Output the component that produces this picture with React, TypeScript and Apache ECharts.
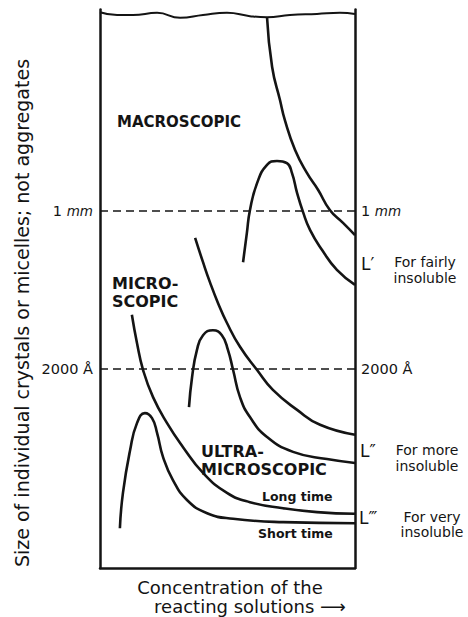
import React, { useEffect, useRef } from "react";
import * as echarts from "echarts";

// Abstract units: concentration 0..100 (x), crystal size 0..101 (y)
const frameTop: [number, number][] = [
  [0, 100.5], [6.7, 100.0], [12.9, 100.0], [22.4, 100.4], [31.4, 99.5], [40.4, 100.0],
  [49.8, 100.4], [58.8, 99.8], [65.5, 99.6], [74.5, 100.0], [85.1, 100.2], [94.1, 100.4], [100, 100.2],
];

// L' (fairly insoluble) upper boundary
const curveL1Upper: [number, number][] = [
  [65.5, 99.6], [67.5, 90.6], [70.6, 84.6], [72.5, 81.0], [76.5, 75.6], [81.2, 71.4],
  [85.5, 68.4], [90.2, 64.7], [95.3, 62.4], [100, 60.2],
];
// L' hump
const curveL1Hump: [number, number][] = [
  [56.1, 55.3], [57.6, 60.6], [58.8, 64.7], [61.6, 69.6], [65.5, 72.9], [69.4, 73.6],
  [73.3, 73.2], [75.3, 71.4], [77.3, 67.8], [79.6, 64.4], [82.4, 61.1], [87.1, 57.5],
  [92.9, 53.9], [100, 51.2],
];
// L'' (more insoluble) upper boundary
const curveL2Upper: [number, number][] = [
  [37.3, 59.7], [40.4, 55.3], [43.1, 51.7], [46.3, 47.9], [49.8, 44.3], [54.9, 40.0],
  [61.6, 35.8], [67.8, 32.2], [77.3, 28.6], [86.3, 25.9], [100, 24.1],
];
// L'' hump
const curveL2Hump: [number, number][] = [
  [34.9, 29.1], [36.1, 34.5], [38.0, 39.4], [40.4, 42.1], [44.3, 43.0], [47.8, 42.1],
  [50.2, 39.4], [52.2, 35.8], [54.9, 30.9], [58.8, 27.3], [65.5, 23.7], [75.7, 21.0],
  [89.0, 19.7], [100, 19.0],
];
// L''' long time
const curveLongTime: [number, number][] = [
  [12.5, 45.8], [14.5, 40.7], [16.9, 35.8], [20.8, 30.9], [26.3, 26.2], [32.5, 21.9],
  [40.4, 17.2], [49.8, 13.6], [58.8, 11.9], [71.8, 10.8], [85.1, 10.1], [100, 9.8],
];
// L''' short time
const curveShortTime: [number, number][] = [
  [7.8, 7.2], [9.0, 13.6], [11.8, 21.3], [14.5, 26.2], [17.6, 28.0], [20.4, 27.1],
  [22.4, 24.4], [24.7, 20.1], [28.6, 15.9], [34.1, 12.3], [42.0, 9.9], [52.2, 8.9],
  [71.8, 8.3], [100, 8.1],
];

const sizeLevels = [64.6, 36.0];
const sizeLabels = ["1 {i|mm}", "2000 Å"];

const FONT = "DejaVu Sans";
const INK = "#141414";

export default function App() {
  const ref = useRef<HTMLDivElement>(null);
  useEffect(() => {
    if (!ref.current) return;
    const chart = echarts.init(ref.current, undefined, { renderer: "svg" });
    const curve = (name: string, data: [number, number][], extra: any = {}) => ({
      name,
      type: "line",
      data,
      showSymbol: false,
      symbol: "none",
      smooth: 0.5,
      clip: false,
      lineStyle: { color: INK, width: 2.6 },
      z: 3,
      ...extra,
    });
    const labelFmt = (v: number) => {
      const i = sizeLevels.findIndex((s) => Math.abs(s - v) < 0.01);
      return i >= 0 ? sizeLabels[i] : "";
    };
    const axisLabelCommon = {
      show: true,
      customValues: sizeLevels,
      formatter: labelFmt,
      color: INK,
      fontFamily: FONT,
      fontSize: 14.5,
      rich: { i: { fontStyle: "italic", fontFamily: FONT, fontSize: 13.5, color: INK } },
    };
    chart.setOption({
      animation: false,
      backgroundColor: "#ffffff",
      grid: { left: 100, right: 113, top: 9.5, bottom: 49 },
      xAxis: {
        type: "value",
        min: 0,
        max: 100,
        axisLine: { show: true, lineStyle: { color: INK, width: 2.5 } },
        axisTick: { show: false },
        axisLabel: { show: false },
        splitLine: { show: false },
      },
      yAxis: [
        {
          type: "value",
          min: 0,
          max: 101,
          position: "left",
          axisLine: { show: true, onZero: false, lineStyle: { color: INK, width: 2.5 } },
          axisTick: { show: false },
          axisLabel: { ...axisLabelCommon, margin: 7 },
          splitLine: { show: false },
        },
        {
          type: "value",
          min: 0,
          max: 101,
          position: "right",
          axisLine: { show: true, onZero: false, lineStyle: { color: INK, width: 2.5 } },
          axisTick: { show: false },
          axisLabel: { ...axisLabelCommon, margin: 6 },
          splitLine: { show: false },
        },
      ],
      series: [
        curve("frameTop", frameTop, { smooth: 0.5, lineStyle: { color: INK, width: 2 } }),
        curve("L′ upper", curveL1Upper, {
          markLine: {
            silent: true,
            symbol: "none",
            label: { show: false },
            lineStyle: { color: INK, width: 1.5, type: [8, 5] },
            data: sizeLevels.map((v) => ({ yAxis: v })),
          },
        }),
        curve("L′ hump", curveL1Hump),
        curve("L″ upper", curveL2Upper),
        curve("L″ hump", curveL2Hump),
        curve("Long time", curveLongTime),
        curve("Short time", curveShortTime),
      ],
      graphic: [
        {
          type: "text",
          x: 22,
          y: 313,
          rotation: Math.PI / 2,
          style: {
            text: "Size of individual crystals or micelles; not aggregates",
            font: `19px "${FONT}"`,
            fill: INK,
            align: "center",
            verticalAlign: "middle",
          },
        },
        {
          type: "text",
          left: 117,
          top: 114,
          style: { text: "MACROSCOPIC", font: `bold 15px "${FONT}"`, fill: INK },
        },
        {
          type: "text",
          left: 112,
          top: 274,
          style: { text: "MICRO-\nSCOPIC", font: `bold 16px "${FONT}"`, fill: INK, lineHeight: 18 },
        },
        {
          type: "text",
          left: 201,
          top: 442,
          style: { text: "ULTRA-\nMICROSCOPIC", font: `bold 16px "${FONT}"`, fill: INK, lineHeight: 18 },
        },
        {
          type: "text",
          left: 262,
          top: 490,
          style: { text: "Long time", font: `bold 12.5px "${FONT}"`, fill: INK },
        },
        {
          type: "text",
          left: 258,
          top: 527,
          style: { text: "Short time", font: `bold 12.5px "${FONT}"`, fill: INK },
        },
        {
          type: "text",
          left: 361,
          top: 255,
          style: { text: "L′", font: `17px "${FONT}"`, fill: INK },
        },
        {
          type: "text",
          x: 425,
          y: 254,
          style: {
            text: "For fairly\ninsoluble",
            font: `14px "${FONT}"`,
            fill: INK,
            lineHeight: 16,
            align: "center",
          },
        },
        {
          type: "text",
          left: 360,
          top: 442,
          style: { text: "L″", font: `17px "${FONT}"`, fill: INK },
        },
        {
          type: "text",
          x: 427,
          y: 442,
          style: {
            text: "For more\ninsoluble",
            font: `14px "${FONT}"`,
            fill: INK,
            lineHeight: 16,
            align: "center",
          },
        },
        {
          type: "text",
          left: 359,
          top: 509,
          style: { text: "L‴", font: `17px "${FONT}"`, fill: INK },
        },
        {
          type: "text",
          x: 432,
          y: 509,
          style: {
            text: "For very\ninsoluble",
            font: `14px "${FONT}"`,
            fill: INK,
            lineHeight: 15,
            align: "center",
          },
        },
        {
          type: "text",
          x: 230,
          y: 578,
          style: { text: "Concentration of the", font: `18px "${FONT}"`, fill: INK, align: "center" },
        },
        {
          type: "text",
          x: 250,
          y: 597,
          style: { text: "reacting solutions ⟶", font: `18px "${FONT}"`, fill: INK, align: "center" },
        },
      ],
    });
    return () => chart.dispose();
  }, []);
  return (
    <div
      ref={ref}
      style={{ position: "fixed", left: 0, top: 0, width: 468, height: 617, background: "#fff" }}
    />
  );
}
